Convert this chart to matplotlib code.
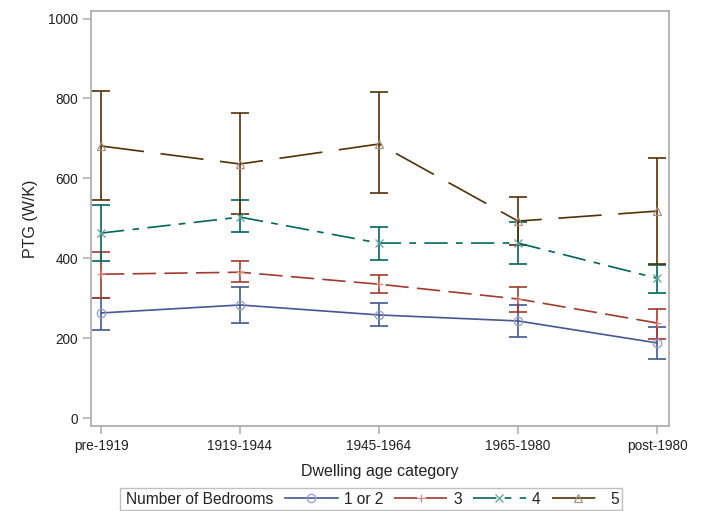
import matplotlib
matplotlib.use("Agg")
import matplotlib.pyplot as plt
from matplotlib.lines import Line2D
from matplotlib.patches import Rectangle
import numpy as np

plt.rcParams['font.family'] = ['Liberation Sans', 'DejaVu Sans']

categories = ["pre-1919", "1919-1944", "1945-1964", "1965-1980", "post-1980"]
series_labels = ["1 or 2", "3", "4", "5"]

mean_1or2 = [263, 283, 258, 243, 188]
low_1or2 = [220, 238, 230, 203, 148]
high_1or2 = [300, 328, 288, 283, 228]

mean_3 = [360, 365, 335, 298, 238]
low_3 = [300, 340, 313, 265, 198]
high_3 = [416, 393, 358, 328, 273]

mean_4 = [463, 503, 438, 438, 350]
low_4 = [393, 466, 395, 385, 313]
high_4 = [533, 546, 478, 491, 383]

mean_5 = [681, 636, 686, 493, 518]
low_5 = [546, 511, 563, 433, 385]
high_5 = [819, 763, 816, 553, 651]

y_ticks = [0, 200, 400, 600, 800, 1000]

colors = ["#445694", "#A23A2E", "#01665E", "#543005"]
marker_colors = ["#8f9acb", "#d08a80", "#5aa39c", "#a8917c"]
markers = ["o", "+", "x", "^"]
dashes = [None, (14, 5), (14, 5, 4, 5), (26, 10)]

means = [mean_1or2, mean_3, mean_4, mean_5]
lows = [low_1or2, low_3, low_4, low_5]
highs = [high_1or2, high_3, high_4, high_5]

fig = plt.figure(figsize=(7.02, 5.11), dpi=100)
ax = fig.add_axes([91/702, 1 - 426/511, (669-91)/702, (426-11)/511])

x = np.arange(len(categories))
handles = []
for i in range(4):
    m = np.array(means[i]); lo = np.array(lows[i]); hi = np.array(highs[i])
    ax.errorbar(x, m, yerr=[m - lo, hi - m], fmt='none', ecolor=colors[i],
                elinewidth=1.2, capsize=6.5, capthick=1.2, zorder=2)
    ln, = ax.plot(x, m, color=colors[i], lw=1.2, zorder=3)
    if dashes[i] is not None:
        ln.set_dashes(dashes[i])
    ax.plot(x, m, linestyle='none', marker=markers[i], markersize=6,
            markerfacecolor='none', markeredgecolor=marker_colors[i],
            markeredgewidth=0.9, zorder=4)
    h = Line2D([], [], color=colors[i], lw=1.2, marker=markers[i], markersize=6,
               markerfacecolor='none', markeredgecolor=marker_colors[i],
               markeredgewidth=0.9)
    if dashes[i] is not None:
        h.set_dashes(dashes[i])
    handles.append(h)

ax.set_xlim(-10/139, (669-101)/139)
ax.set_ylim(-20, 1019)
ax.set_xticks(x)
ax.set_xticklabels(categories)
ax.set_yticks(y_ticks)
for s in ax.spines.values():
    s.set_color("#b0b0b0")
    s.set_linewidth(1.3)
ax.tick_params(axis='both', colors="#b0b0b0", labelcolor="#222222",
               labelsize=9.8, length=6, width=1.2)
ax.set_xlabel("Dwelling age category", fontsize=11.5, color="#222222", labelpad=8)
ax.set_ylabel("PTG (W/K)", fontsize=11.5, color="#222222", labelpad=7)

# legend box
fig.patches.append(Rectangle((120/702, 1 - 510/511), (622-120)/702, (510-488)/511,
                             transform=fig.transFigure, fill=False,
                             edgecolor="#c0c0c0", linewidth=1.0))
fig.text(126/702, 1 - 499/511, "Number of Bedrooms", fontsize=11.2,
         color="#222222", va='center', ha='left')
fig.legend(handles, series_labels, ncol=4, frameon=False, fontsize=11.2,
           loc='center left', bbox_to_anchor=(285/702, 1 - 499/511),
           handlelength=3.4, handletextpad=0.4, columnspacing=0.7,
           borderaxespad=0, borderpad=0, labelcolor="#222222")

fig.savefig("out.png", dpi=100)
